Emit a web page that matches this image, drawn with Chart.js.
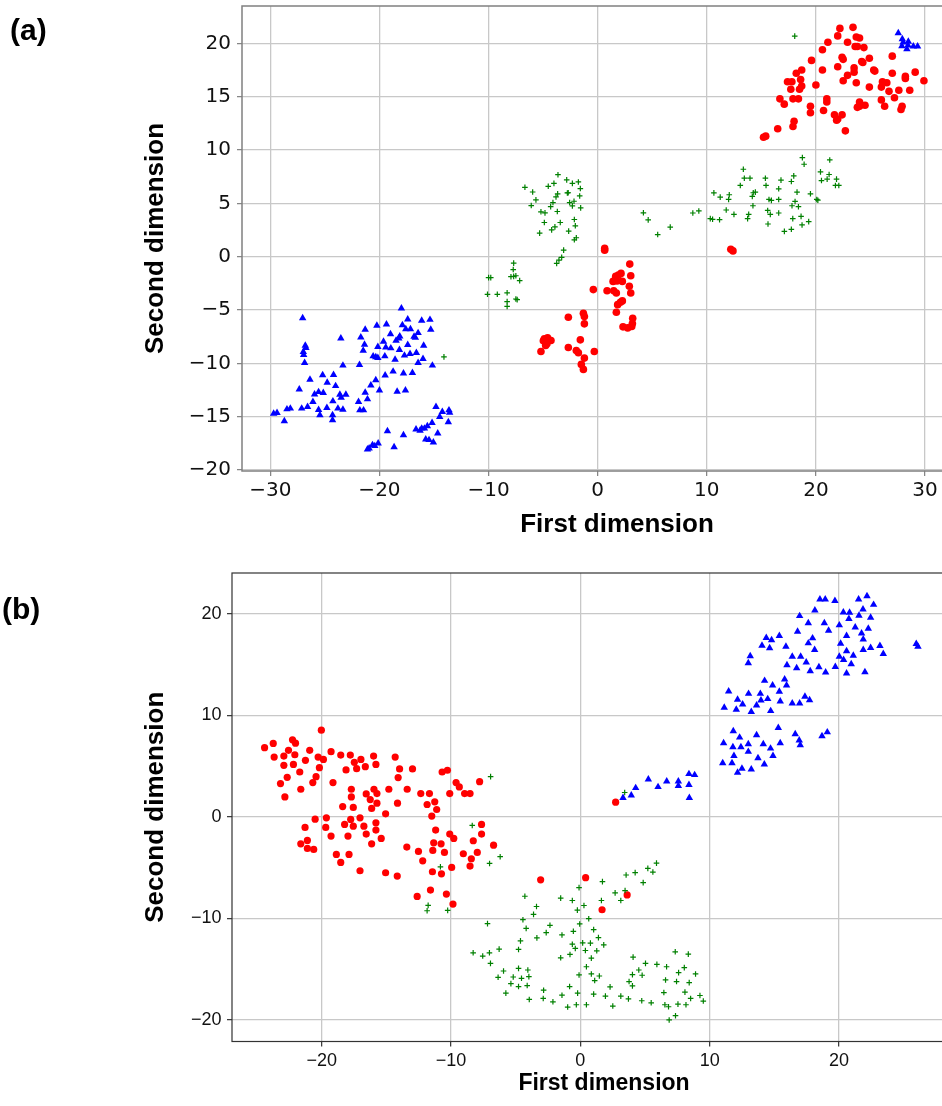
<!DOCTYPE html>
<html>
<head>
<meta charset="utf-8">
<script src="https://cdn.jsdelivr.net/npm/chart.js@4.4.1/dist/chart.umd.min.js"></script>
<style>
  html, body { margin: 0; padding: 0; background: #fff; overflow: hidden; width: 942px; height: 1106px; }
  .panel { position: absolute; left: 0; width: 942px; overflow: hidden; }
  .tag { position: absolute; font: bold 30px 'Liberation Sans', Arial, sans-serif; line-height: 1; color: #000; }
</style>
</head>
<body>
<div class="panel" style="top:0;height:545px"><canvas id="chartA" width="1000" height="545"></canvas></div>
<div class="panel" style="top:559px;height:547px"><canvas id="chartB" width="1000" height="547"></canvas></div>
<div class="tag" style="left:10px;top:15px">(a)</div>
<div class="tag" style="left:2px;top:594px">(b)</div>
<script>
// Marcas de los ejes
const ticksAX = [-30, -20, -10, 0, 10, 20, 30];
const ticksAY = [-20, -15, -10, -5, 0, 5, 10, 15, 20];
const ticksBX = [-20, -10, 0, 10, 20];
const ticksBY = [-20, -10, 0, 10, 20];

// (a) puntos [primera dimension, segunda dimension]
const aRed = [
  [22.2,21.4],[23.4,21.5],[22.0,20.7],[23.7,20.6],[24.0,20.5],[21.1,20.1],[22.9,20.1],[23.6,19.7],[23.8,19.7],[24.4,19.6],
  [20.6,19.4],[22.4,18.7],[22.5,18.5],[24.9,18.6],[24.2,18.3],[24.3,18.2],[27.0,18.8],[19.6,18.4],[22.0,17.8],[20.6,17.5],
  [23.5,17.7],[23.5,17.3],[22.9,17.0],[25.3,17.5],[25.4,17.4],[27.0,17.2],[29.1,17.3],[18.7,17.5],[18.2,17.2],[28.2,16.9],
  [28.2,16.7],[29.9,16.5],[17.4,16.4],[17.8,16.4],[18.6,16.6],[22.5,16.5],[23.7,16.3],[26.1,16.4],[26.5,16.3],[20.0,16.1],
  [18.7,16.0],[18.5,15.7],[17.7,15.7],[24.9,15.9],[26.0,15.9],[26.7,15.5],[27.6,15.6],[28.6,15.6],[27.2,14.9],[16.7,14.8],
  [17.9,14.8],[18.4,14.8],[17.1,14.3],[21.0,14.8],[21.0,14.5],[26.0,14.7],[24.0,14.5],[26.3,14.1],[19.5,14.1],[23.8,14.0],
  [24.0,14.1],[24.5,14.2],[27.9,14.1],[27.8,13.8],[20.7,13.7],[19.5,13.5],[21.7,13.3],[22.4,13.3],[21.9,12.8],[22.0,12.9],
  [18.0,12.7],[17.9,12.2],[16.5,12.0],[22.7,11.8],[15.4,11.3],[15.2,11.2],
  [12.2,0.7],[12.4,0.55],
  [0.64,0.78],[0.64,0.62],[2.94,-0.69],[1.65,-1.84],[1.9,-1.71],[2.14,-1.56],[1.41,-2.31],[1.77,-2.27],[2.26,-2.31],[3.03,-1.78],
  [2.9,-2.77],[-0.4,-3.08],[0.86,-3.18],[1.47,-3.18],[1.71,-3.4],[3.03,-3.4],[2.08,-4.27],[2.26,-4.14],[1.83,-4.49],[1.71,-5.2],
  [3.21,-5.76],[3.18,-6.26],[2.32,-6.57],[2.75,-6.67],[3.12,-6.54],[-2.69,-5.67],[-1.31,-5.3],[-1.22,-5.61],[-1.22,-6.29],
  [-4.89,-7.69],[-4.59,-7.6],[-4.28,-7.85],[-4.98,-7.88],[-4.77,-8.32],[-4.65,-8.16],[-5.2,-8.88],[-1.59,-7.79],[-2.69,-8.5],
  [-1.96,-8.79],[-1.77,-9.0],[-0.31,-8.88],[-1.22,-9.5],[-1.5,-10.09],[-1.31,-10.56]
];
const aGreen = [
  [-6.67,6.51],[-5.96,6.07],[-5.66,5.33],[-6.09,4.8],[-3.64,7.69],[-4.53,6.6],[-4.01,6.88],[-2.84,7.2],[-2.32,6.88],[-1.77,7.01],
  [-1.59,6.39],[-3.67,5.89],[-3.82,5.61],[-2.78,5.98],[-1.65,5.7],[-4.1,5.08],[-4.31,4.7],[-2.57,5.08],[-2.17,5.2],[-2.32,4.77],
  [-1.56,4.58],[-5.2,4.21],[-4.83,4.11],[-3.7,4.24],[-2.14,3.49],[-4.89,3.21],[-3.43,3.21],[-3.92,2.8],[-4.22,2.52],[-2.05,2.9],
  [-2.66,2.4],[-5.32,2.21],[-1.96,1.78],[-2.14,1.59],[-3.12,0.62],[-3.3,-0.06],[-3.55,-0.31],[-3.76,-0.62],[-2.7,6.0],
  [-7.7,-0.6],[-7.74,-1.2],[-7.95,-1.87],[-7.7,-1.84],[-7.5,-1.78],[-7.15,-2.24],[-10.0,-1.96],[-9.8,-1.96],[-10.1,-3.52],
  [-9.2,-3.52],[-8.3,-3.38],[-8.3,-4.2],[-8.3,-4.65],[-7.5,-3.96],[-7.38,-4.02],
  [-14.09,-9.38],[18.06,20.68],
  [4.19,4.12],[4.63,3.46],[5.5,2.08],[6.65,2.78],[8.72,4.1],[9.27,4.29],[10.32,3.57],[10.53,3.51],[11.17,3.47],[10.65,5.99],
  [11.23,5.59],[12.06,5.81],[12.0,5.37],[11.78,4.38],[12.49,3.97],[13.07,6.68],[13.35,8.2],[13.44,7.36],[13.96,7.36],[14.26,6.0],
  [14.45,6.06],[14.17,5.65],[14.23,4.78],[13.84,3.97],[13.74,3.57],[15.37,7.36],[15.43,6.68],[18.76,9.29],[18.92,8.67],[21.27,9.07],
  [20.42,7.95],[20.51,7.14],[21.03,7.27],[21.21,7.71],[21.89,7.27],[21.79,6.68],[22.1,6.68],[16.8,7.18],[17.75,7.05],[17.97,7.58],
  [16.59,6.37],[18.27,6.06],[19.5,5.9],[20.08,5.37],[20.18,5.3],[15.7,5.37],[15.92,5.28],[16.59,5.37],[15.58,4.34],[15.82,3.97],
  [16.59,4.1],[17.81,4.78],[18.09,5.18],[18.4,4.69],[17.88,3.57],[18.64,3.78],[19.34,3.29],[15.61,3.07],[17.11,2.38],[17.75,2.57],
  [18.73,2.98]
];
const aBlue = [
  [-27.04,-5.75],[-26.8,-8.32],[-26.74,-8.54],[-26.95,-9.19],[-26.98,-8.91],[-26.86,-9.94],[-26.37,-11.52],[-27.35,-12.42],
  [-25.95,-12.89],[-25.58,-12.67],[-26.1,-13.6],[-25.15,-12.76],[-25.21,-11.09],[-24.79,-11.8],[-24.21,-11.06],[-24.02,-12.11],
  [-23.63,-12.92],[-23.51,-13.2],[-23.08,-12.92],[-23.35,-10.19],[-23.54,-7.64],[-24.27,-13.54],[-23.81,-14.22],[-23.35,-14.32],
  [-24.82,-14.16],[-24.3,-14.84],[-24.3,-15.31],[-25.58,-14.35],[-25.46,-14.84],[-26.59,-14.07],[-27.13,-14.22],[-28.48,-14.29],
  [-28.17,-14.22],[-29.7,-14.69],[-29.39,-14.63],[-28.72,-15.4],[-21.83,-10.12],[-21.71,-7.55],[-21.31,-6.83],[-21.37,-8.23],
  [-21.49,-8.79],[-20.79,-12.05],[-20.34,-11.55],[-21.31,-12.73],[-21.1,-13.35],[-21.92,-13.6],[-21.8,-14.38],[-21.46,-14.38],
  [-20.0,-12.52],[-20.24,-6.46],[-20.15,-8.45],[-20.58,-9.32],[-20.34,-9.41],[-20.15,-9.47],[-19.63,-7.95],[-19.36,-6.34],
  [-19.42,-8.48],[-18.96,-8.57],[-19.51,-9.32],[-19.48,-11.12],[-18.99,-7.24],[-18.75,-10.75],[-18.57,-9.63],[-18.48,-7.86],
  [-18.23,-7.64],[-18.14,-7.45],[-18.17,-8.73],[-18.38,-12.64],[-17.99,-4.84],[-17.9,-6.4],[-17.71,-9.25],[-17.8,-10.93],
  [-17.62,-12.52],[-17.59,-6.77],[-17.41,-5.87],[-17.41,-8.26],[-17.2,-9.1],[-17.16,-6.77],[-16.83,-7.48],[-16.98,-10.87],
  [-16.62,-9.0],[-16.46,-9.94],[-16.13,-5.99],[-16.01,-9.57],[-16.46,-7.14],[-16.71,-7.58],[-15.95,-8.32],[-15.37,-5.9],
  [-15.3,-6.83],[-15.15,-10.19],[-14.82,-14.07],[-14.24,-14.53],[-14.48,-15.0],[-13.63,-14.38],[-13.57,-14.6],[-13.69,-15.5],
  [-15.18,-15.56],[-15.61,-15.87],[-15.88,-16.09],[-16.13,-16.09],[-16.28,-16.3],[-16.65,-16.18],[-14.66,-16.55],[-15.76,-17.11],
  [-15.46,-17.17],[-15.06,-17.39],[-19.27,-16.34],[-17.8,-16.71],[-18.66,-17.83],[-20.12,-17.48],[-20.43,-17.73],[-20.95,-17.95],
  [-21.1,-18.04],[-20.64,-17.64],
  [27.55,20.96],[27.92,20.4],[28.0,20.09],[28.47,20.16],[28.44,19.81],[27.88,19.75],[28.93,19.72],[29.32,19.72],[28.34,19.47]
];

// (b) puntos
const bRed = [
  [-24.42,6.8],[-23.75,7.22],[-23.68,5.88],[-22.26,7.58],[-22.03,7.25],[-22.93,5.98],[-22.93,5.07],[-22.57,6.54],[-22.08,6.11],
  [-22.19,5.16],[-23.19,3.27],[-22.67,3.89],[-22.85,1.96],[-21.62,2.71],[-21.7,4.41],[-21.26,5.56],[-20.93,6.54],[-20.69,3.37],
  [-20.44,3.95],[-20.28,5.88],[-20.18,4.84],[-19.87,5.65],[-20.03,8.53],[-19.28,6.41],[-19.13,3.37],[-18.53,6.08],[-18.12,4.61],
  [-17.79,6.08],[-17.48,5.36],[-17.3,4.74],[-16.97,5.65],[-16.63,4.93],[-17.71,2.71],[-17.71,1.96],[-18.38,1.01],[-17.56,0.92],
  [-16.56,2.25],[-16.25,1.7],[-15.99,5.98],[-15.81,5.16],[-15.96,2.71],[-15.73,2.29],[-15.73,1.34],[-16.14,0.82],[-15.06,0.29],
  [-14.81,2.71],[-14.32,5.88],[-13.98,4.71],[-14.09,3.86],[-14.14,1.34],[-13.39,2.71],[-12.98,4.71],[-12.34,2.29],[-11.67,2.29],
  [-11.85,1.21],[-11.26,1.47],[-11.11,0.72],[-11.49,0.07],[-10.69,4.41],[-10.28,4.58],[-10.1,2.29],[-9.61,3.37],[-9.36,2.94],
  [-8.95,2.29],[-8.53,2.29],[-7.79,3.46],
  [-20.51,-0.23],[-19.64,-0.1],[-21.29,-1.05],[-21.11,-2.33],[-21.11,-3.11],[-21.62,-2.66],[-20.62,-3.21],[-19.69,-1.05],
  [-19.28,-1.9],[-18.87,-3.7],[-18.53,-4.49],[-18.23,-0.75],[-17.76,-0.26],[-17.56,-0.92],[-17.97,-1.9],[-17.89,-3.7],
  [-17.04,-0.1],[-16.74,-0.92],[-16.56,-1.7],[-17.04,-5.31],[-16.14,-2.66],[-15.81,-0.59],[-15.81,-1.31],[-15.4,-2.13],
  [-15.06,-5.51],[-14.16,-5.84],[-13.42,-2.98],[-12.52,-3.41],[-12.19,-4.33],[-12.62,-7.84],[-11.59,-7.21],[-11.19,-1.31],
  [-11.34,-2.56],[-11.41,-3.31],[-11.44,-5.41],[-10.77,-2.66],[-10.51,-3.51],[-10.74,-5.61],[-10.36,-7.61],[-10.1,-1.7],
  [-9.79,-2.13],[-9.95,-4.98],[-9.85,-8.59],[-9.05,-3.64],[-8.43,-4.13],[-8.53,-4.85],[-8.28,-2.36],[-7.97,-3.51],[-7.64,-0.75],
  [-7.64,-1.7],[-6.71,-2.79],
  [-3.07,-6.2],[0.41,-5.99],[3.62,-7.69],[1.68,-9.15],[2.73,1.44]
];
const bGreen = [
  [-6.94,3.95],[-8.36,-0.85],[-6.2,-3.93],[-7.02,-4.59],[-10.82,-4.92],[-11.77,-8.72],[-11.85,-9.25],[-10.26,-9.21],[3.43,2.39],
  [-7.18,-10.52],[-8.29,-13.39],[-7.55,-13.71],[-7.03,-13.39],[-6.95,-14.43],[-6.28,-13.03],[-5.94,-15.18],[-6.36,-15.8],
  [-5.37,-16.42],[-5.19,-15.77],[-5.76,-17.36],[-4.78,-13.06],[-4.63,-12.21],[-4.78,-14.92],[-4.55,-15.9],[-4.78,-16.71],
  [-4.11,-16.61],[-4.06,-15.08],[-3.98,-15.73],[-3.95,-17.98],[-4.44,-10.13],[-4.19,-10.98],[-4.29,-7.82],[-3.62,-9.61],
  [-3.39,-8.83],[-3.36,-11.92],[-2.64,-11.4],[-2.35,-10.68],[-2.84,-17.07],[-2.87,-17.88],[-2.12,-18.21],[-1.42,-11.63],
  [-1.52,-13.88],[-1.52,-8.01],[-1.42,-17.56],[-0.98,-18.73],[-0.8,-13.55],[-0.83,-16.71],[-0.62,-12.54],[-0.39,-12.96],
  [-0.62,-8.24],[-0.54,-11.27],[-0.31,-18.5],[-0.21,-17.36],[-0.1,-15.57],[-0.1,-6.97],[-0.23,-9.19],[-0.05,-10.55],[0.28,-8.73],
  [0.65,-10.03],[0.18,-12.41],[0.39,-13.16],[0.78,-12.44],[0.85,-13.91],[0.47,-14.76],[0.85,-15.47],[1.11,-16.12],[1.47,-15.67],
  [1.03,-11.11],[1.4,-11.89],[1.27,-13.19],[1.81,-12.61],[0.47,-18.5],[1.03,-17.46],[1.63,-8.24],[1.71,-6.38],[1.94,-17.65],
  [2.3,-16.74],[2.51,-18.63],[2.69,-7.49],[3.13,-8.24],[3.13,-17.65],[3.46,-7.26],[3.54,-5.73],[4.24,-5.5],[4.86,-6.48],
  [5.22,-5.08],[5.61,-5.44],[5.89,-4.56],[3.72,-17.92],[4.08,-13.81],[3.77,-16.22],[4.03,-16.64],[4.52,-15.08],[4.78,-15.6],
  [4.03,-15.54],[5.04,-14.43],[4.75,-18.11],[5.48,-18.31],[5.92,-14.53],[6.67,-14.76],[6.46,-17.3],[6.59,-16.06],[6.54,-18.5],
  [6.82,-18.7],[6.87,-20.0],[7.36,-19.58],[7.34,-13.29],[7.44,-16.22],[7.55,-18.44],[7.6,-15.34],[8.04,-14.85],[8.17,-18.5],
  [8.35,-13.52],[8.42,-16.32],[8.09,-17.26],[8.53,-17.88],[8.91,-15.47],[9.25,-17.59],[9.51,-18.14]
];
const bBlue = [
  [3.3,1.86],[3.94,2.12],[4.28,2.84],[5.26,3.69],[6.01,2.94],[6.68,3.5],[7.58,3.5],[7.58,3.04],[8.4,4.22],[8.84,4.12],
  [8.4,3.14],[8.43,1.86],
  [11.01,5.29],[11.73,5.29],[12.16,4.35],[12.5,4.74],[13.22,4.67],[14.23,5.16],[11.88,6.01],[13.74,5.78],[14.9,6.01],
  [11.08,7.25],[11.8,6.86],[12.42,6.86],[12.99,6.41],[12.99,7.16],[14.15,7.16],[14.71,6.73],[11.83,8.43],[12.32,7.81],
  [13.63,8.04],[15.31,8.76],[15.46,7.25],[16.62,8.14],[16.93,7.52],[17.01,7.06],[18.69,7.94],[19.1,8.33],
  [11.13,10.75],[12.06,10.56],[11.47,12.35],[12.16,11.54],[12.55,11.08],[13.01,12.12],[13.22,10.33],[13.63,10.98],
  [13.92,12.12],[13.97,11.47],[14.49,11.6],[14.72,10.42],[14.25,13.4],[14.87,12.94],[15.39,12.32],[15.46,11.37],
  [15.8,13.53],[15.95,12.94],[16.39,11.18],[16.96,11.18],[17.37,11.83],[17.73,11.5],
  [12.99,15.13],[13.14,15.82],[14.05,16.86],[14.38,17.61],[14.79,17.39],[14.64,16.6],[15.39,17.81],[15.9,16.76],
  [16.39,15.78],[17.04,15.78],[15.98,14.93],[16.73,14.64],[17.47,15.2],[17.78,14.35],[18.45,14.74],[18.97,14.22],
  [19.72,14.77],[20.59,14.12],[22.01,14.25],[17.63,17.09],[17.96,17.58],[18.12,16.44],[16.96,19.77],[17.63,19.08],
  [16.8,18.24],[18.14,20.33],[18.53,21.41],[18.94,21.41],[19.69,21.27],[18.87,19.08],[19.2,18.33],[20.03,18.86],
  [20.13,17.06],[20.03,15.78],[20.36,15.46],[20.59,16.31],[20.59,17.81],[21.11,15.88],[20.95,15.03],[20.34,20.13],
  [20.82,20.1],[20.77,19.48],[21.26,18.66],[21.52,21.41],[22.17,21.73],[21.86,20.42],[22.68,20.88],[21.55,19.8],
  [22.45,19.61],[21.75,18.07],[21.88,17.48],[22.27,18.53],[21.88,16.44],[22.45,16.63],[23.17,16.83],[23.43,16.05],
  [25.98,17.03],[26.11,16.76]
];

function toPoints(arr) {
  return arr.map(p => ({ x: p[0], y: p[1] }));
}

// Etiquetas con signo menos tipográfico
function minusSign(v) {
  return v < 0 ? '\u2212' + Math.abs(v) : String(v);
}

// Marco completo alrededor del área de datos
const frame = {
  id: 'frame',
  afterDatasetsDraw(chart, args, opts) {
    const { ctx, chartArea: a } = chart;
    ctx.save();
    ctx.strokeStyle = opts.color;
    ctx.lineWidth = opts.width;
    ctx.strokeRect(a.left, a.top, a.right - a.left, a.bottom - a.top);
    ctx.restore();
  }
};

function makeChart(id, cfg) {
  return new Chart(document.getElementById(id), {
    type: 'scatter',
    data: {
      datasets: [
        { data: toPoints(cfg.green), pointStyle: 'cross', pointRadius: cfg.cross,
          pointBorderColor: '#008000', pointBorderWidth: 1.2 },
        { data: toPoints(cfg.red), pointStyle: 'circle', pointRadius: cfg.dot,
          pointBackgroundColor: '#ff0000', pointBorderColor: '#ff0000', pointBorderWidth: 0 },
        { data: toPoints(cfg.blue), pointStyle: 'triangle', pointRadius: cfg.tri,
          pointBackgroundColor: '#0000ff', pointBorderColor: '#0000ff', pointBorderWidth: 0 }
      ]
    },
    options: {
      responsive: false,
      animation: false,
      events: [],
      layout: { padding: cfg.pad },
      plugins: {
        legend: { display: false },
        tooltip: { enabled: false },
        frame: { color: cfg.spine, width: cfg.spineW }
      },
      scales: {
        x: {
          type: 'linear',
          min: cfg.xMin,
          max: cfg.xMax,
          afterBuildTicks: s => { s.ticks = cfg.xTicks.map(v => ({ value: v })); },
          afterFit: s => { s.height = cfg.xAxisH; s.paddingLeft = 0; s.paddingRight = 0; },
          ticks: { callback: minusSign, font: cfg.tickFont, color: '#111', padding: cfg.xPad, maxRotation: 0, autoSkip: false },
          grid: { color: '#c8c8c8', lineWidth: 1.3, tickLength: 5, tickColor: cfg.spine, tickWidth: 1.2 },
          border: { display: false },
          title: { display: true, text: 'First dimension', color: '#000', font: cfg.xTitleFont, padding: { top: 0, bottom: cfg.xTitlePad } }
        },
        y: {
          type: 'linear',
          min: cfg.yMin,
          max: cfg.yMax,
          afterBuildTicks: s => { s.ticks = cfg.yTicks.map(v => ({ value: v })); },
          afterFit: s => { s.width = cfg.yAxisW; s.paddingTop = 0; s.paddingBottom = 0; },
          ticks: { callback: minusSign, font: cfg.tickFont, color: '#111', padding: cfg.yPad, autoSkip: false },
          grid: { color: '#c8c8c8', lineWidth: 1.3, tickLength: 5, tickColor: cfg.spine, tickWidth: 1.2 },
          border: { display: false },
          title: { display: true, text: 'Second dimension', color: '#000', font: cfg.yTitleFont, padding: { top: 20, bottom: 0 } }
        }
      }
    },
    plugins: [frame]
  });
}

const boldLabel = size => ({ family: "'Liberation Sans', Arial, sans-serif", size: size, weight: 'bold' });

makeChart('chartA', {
  red: aRed, green: aGreen, blue: aBlue,
  xTicks: ticksAX, yTicks: ticksAY,
  xMin: -32.6, xMax: 36.14, yMin: -20.08, yMax: 23.5,
  pad: { left: 120, top: 6, right: 8, bottom: 0 },
  xAxisH: 74, yAxisW: 122,
  tickFont: { family: "'DejaVu Sans', sans-serif", size: 20 },
  xPad: 3, yPad: 6,
  xTitleFont: boldLabel(26), yTitleFont: boldLabel(26), xTitlePad: 5,
  spine: '#808080', spineW: 1.5,
  dot: 3.8, tri: 4.3, cross: 2.8
});

makeChart('chartB', {
  red: bRed, green: bGreen, blue: bBlue,
  xTicks: ticksBX, yTicks: ticksBY,
  xMin: -26.94, xMax: 30.6, yMin: -22.12, yMax: 24.0,
  pad: { left: 120, top: 14, right: 24, bottom: 0 },
  xAxisH: 64.5, yAxisW: 112,
  tickFont: { family: "'Liberation Sans', Arial, sans-serif", size: 18 },
  xPad: 4, yPad: 5.5,
  xTitleFont: boldLabel(23), yTitleFont: boldLabel(26), xTitlePad: 9,
  spine: '#333333', spineW: 1.2,
  dot: 3.6, tri: 4.3, cross: 2.8
});
</script>
</body>
</html>
